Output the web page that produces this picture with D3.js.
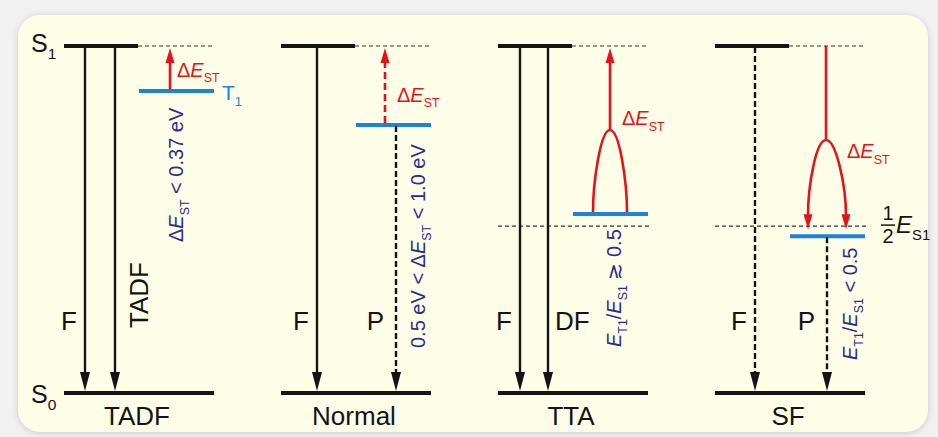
<!DOCTYPE html>
<html>
<head>
<meta charset="utf-8">
<script src="https://cdn.jsdelivr.net/npm/d3@7"></script>
<style>
  body { margin: 0; background: #f1f1f1; }
  svg { display: block; font-family: "Liberation Sans", Arial, sans-serif; }
</style>
</head>
<body>
<div id="chart"></div>
<script>
// energies are given as fractions of E(S1), S0 = 0
var panels = ['TADF', 'Normal', 'TTA', 'SF']
var t1Levels = [0.87, 0.772, 0.516, 0.452]
var halfLevel = 0.481
var halfPanels = ['TTA', 'SF']

// downward (radiative) transitions, x is the position inside a panel
var emissions = [
  {panel: 'TADF',   from: 'S1', x: 21,  dashed: false, label: 'F'},
  {panel: 'TADF',   from: 'S1', x: 51,  dashed: false, label: 'TADF'},
  {panel: 'Normal', from: 'S1', x: 36,  dashed: false, label: 'F'},
  {panel: 'Normal', from: 'T1', x: 115, dashed: true,  label: 'P'},
  {panel: 'TTA',    from: 'S1', x: 22,  dashed: false, label: 'F'},
  {panel: 'TTA',    from: 'S1', x: 50,  dashed: false, label: 'DF'},
  {panel: 'SF',     from: 'S1', x: 40,  dashed: true,  label: 'F'},
  {panel: 'SF',     from: 'T1', x: 112, dashed: true,  label: 'P'}
]

// red S1 <-> T1 processes
var processes = [
  {panel: 'TADF',   kind: 'up',      x: 106, dashed: false},
  {panel: 'Normal', kind: 'up',      x: 104, dashed: true},
  {panel: 'TTA',    kind: 'fusion',  x: 112, feet: [95, 129], apex: 0.758},
  {panel: 'SF',     kind: 'fission', x: 111, feet: [93, 131], apex: 0.729}
]

var conditions = [
  [['Δ'], ['E', 'i'], ['ST', 'sub'], [' < 0.37 eV']],
  [['0.5 eV < Δ'], ['E', 'i'], ['ST', 'sub'], [' < 1.0 eV']],
  [['E', 'i'], ['T1', 'sub'], ['/'], ['E', 'i'], ['S1', 'sub'], [' \u2273 0.5']],
  [['E', 'i'], ['T1', 'sub'], ['/'], ['E', 'i'], ['S1', 'sub'], [' < 0.5']]
]

var width = 938, height = 437
var black = '#141414', red = '#e1141e', blue = '#1d82d9', navy = '#2c2c8a'

var svg = d3.select('#chart').append('svg')
  .attr('width', width)
  .attr('height', height)

var defs = svg.append('defs')
var f = defs.append('filter').attr('id', 'shadow')
  .attr('x', '-5%').attr('y', '-5%').attr('width', '110%').attr('height', '110%')
f.append('feDropShadow').attr('dx', 0).attr('dy', 1).attr('stdDeviation', 3)
  .attr('flood-color', '#999').attr('flood-opacity', 0.45)

svg.append('rect')
  .attr('x', 18).attr('y', 15)
  .attr('width', 910).attr('height', 417)
  .attr('rx', 22)
  .attr('fill', '#fefee8')
  .attr('filter', 'url(#shadow)')

var y = d3.scaleLinear().domain([0, 1]).range([393, 46])
var px = d3.scalePoint().domain(panels).range([64, 715])
var ix = d3.scaleLinear().domain([0, 150]).range([0, 150])
function X(panel, v) { return px(panel) + ix(v) }

function level(panel, name) {
  if (name == 'S1') return 1
  if (name == 'S0') return 0
  return t1Levels[panels.indexOf(panel)]
}

function rich(g, parts, size) {
  var t = g.append('text').attr('font-size', size)
  var shift = 0
  parts.forEach(function (p) {
    var s = t.append('tspan').text(p[0])
    if (p[1] == 'i') s.attr('font-style', 'italic')
    if (p[1] == 'sub') {
      s.attr('font-size', size * 0.62).attr('dy', size * 0.28)
      shift = size * 0.28
    } else if (shift) {
      s.attr('dy', -shift)
      shift = 0
    }
  })
  return t
}

function head(x, tip, dir, w, len, color) {
  // dir = 1 points down, -1 points up
  svg.append('path')
    .attr('d', 'M' + x + ',' + tip + 'L' + (x - w / 2) + ',' + (tip - dir * len) +
      'L' + (x + w / 2) + ',' + (tip - dir * len) + 'Z')
    .attr('fill', color)
}

// levels
panels.forEach(function (p, i) {
  var g = svg.append('g')
  g.append('line')
    .attr('x1', X(p, 0)).attr('x2', X(p, 74))
    .attr('y1', y(1)).attr('y2', y(1))
    .attr('stroke', black).attr('stroke-width', 4)
  g.append('line')
    .attr('x1', X(p, 74)).attr('x2', X(p, 151))
    .attr('y1', y(1)).attr('y2', y(1))
    .attr('stroke', '#333').attr('stroke-width', 1.2).attr('stroke-dasharray', '4,3')
  g.append('line')
    .attr('x1', X(p, 0)).attr('x2', X(p, 150))
    .attr('y1', y(0)).attr('y2', y(0))
    .attr('stroke', black).attr('stroke-width', 4)
  if (halfPanels.indexOf(p) >= 0) {
    g.append('line')
      .attr('x1', X(p, 0)).attr('x2', X(p, 151))
      .attr('y1', y(halfLevel)).attr('y2', y(halfLevel))
      .attr('stroke', '#333').attr('stroke-width', 1.2).attr('stroke-dasharray', '4,3')
  }
  g.append('line')
    .attr('x1', X(p, 75)).attr('x2', X(p, 150))
    .attr('y1', y(t1Levels[i])).attr('y2', y(t1Levels[i]))
    .attr('stroke', blue).attr('stroke-width', 4)

  g.append('text')
    .attr('x', X(p, 73)).attr('y', 425)
    .attr('text-anchor', 'middle')
    .attr('font-size', 26)
    .attr('fill', black)
    .text(p)
})

// emission arrows
emissions.forEach(function (d) {
  var x = X(d.panel, d.x)
  var top = y(level(d.panel, d.from)) + 1
  var tip = y(0) - 2
  svg.append('line')
    .attr('x1', x).attr('x2', x)
    .attr('y1', top).attr('y2', tip - 14)
    .attr('stroke', black).attr('stroke-width', 2.4)
    .attr('stroke-dasharray', d.dashed ? '6,3' : null)
  head(x, tip, 1, 10, 19, black)

  var t = svg.append('text')
    .attr('font-size', 26)
    .attr('fill', black)
    .text(d.label)
  if (d.label == 'TADF') {
    t.attr('transform', 'translate(' + (x + 33) + ',328) rotate(-90)')
  } else if (d.label == 'DF') {
    t.attr('x', x + 7).attr('y', 330)
  } else {
    t.attr('x', x - (d.label == 'P' ? 12 : 8)).attr('y', 330).attr('text-anchor', 'end')
  }
})

// red processes
var estPos = {TADF: [113, 0.911], Normal: [116, 0.839], TTA: [124, 0.772], SF: [132, 0.677]}
processes.forEach(function (d) {
  var x = X(d.panel, d.x)
  var t1 = y(level(d.panel, 'T1'))
  var s1 = y(1)
  if (d.kind == 'up') {
    svg.append('line')
      .attr('x1', x).attr('x2', x)
      .attr('y1', t1 - 2).attr('y2', s1 + 14)
      .attr('stroke', red).attr('stroke-width', 2.6)
      .attr('stroke-dasharray', d.dashed ? '7,4' : null)
    head(x, s1 + 2, -1, 9, 15, red)
  } else if (d.kind == 'fusion') {
    var a = y(d.apex), l = X(d.panel, d.feet[0]), r = X(d.panel, d.feet[1])
    svg.append('path')
      .attr('d', 'M' + l + ',' + (t1 - 2) + 'C' + l + ',' + (a + 55) + ' ' + (x - 10) + ',' + a + ' ' + x + ',' + a +
        'C' + (x + 10) + ',' + a + ' ' + r + ',' + (a + 55) + ' ' + r + ',' + (t1 - 2) +
        'M' + x + ',' + a + 'L' + x + ',' + (s1 + 14))
      .attr('fill', 'none').attr('stroke', red).attr('stroke-width', 2.6)
    head(x, s1 + 2, -1, 9, 15, red)
  } else {
    var a2 = y(d.apex), l2 = X(d.panel, d.feet[0]), r2 = X(d.panel, d.feet[1])
    var tip = t1 - 7
    svg.append('path')
      .attr('d', 'M' + x + ',' + s1 + 'L' + x + ',' + a2 +
        'M' + l2 + ',' + (tip - 13) + 'C' + l2 + ',' + (a2 + 45) + ' ' + (x - 10) + ',' + a2 + ' ' + x + ',' + a2 +
        'C' + (x + 10) + ',' + a2 + ' ' + r2 + ',' + (a2 + 45) + ' ' + r2 + ',' + (tip - 13))
      .attr('fill', 'none').attr('stroke', red).attr('stroke-width', 2.6)
    head(l2, tip, 1, 9, 15, red)
    head(r2, tip, 1, 9, 15, red)
  }
  var pos = estPos[d.panel]
  rich(svg, [['Δ'], ['E', 'i'], ['ST', 'sub']], 20)
    .attr('x', X(d.panel, pos[0])).attr('y', y(pos[1]))
    .attr('fill', red)
})

// conditions (rotated, navy)
var condPos = [[119, 242], [144, 348], [123, 347], [142, 360]]
conditions.forEach(function (parts, i) {
  var p = panels[i]
  rich(svg, parts, 20)
    .attr('fill', navy)
    .attr('transform', 'translate(' + X(p, condPos[i][0]) + ',' + condPos[i][1] + ') rotate(-90)')
})

// T1 label
rich(svg, [['T'], ['1', 'sub']], 21)
  .attr('x', X('TADF', 158)).attr('y', y(t1Levels[0]) + 9)
  .attr('fill', blue)

// state labels
rich(svg, [['S'], ['1', 'sub']], 25).attr('x', 31).attr('y', y(1) + 6).attr('fill', black)
rich(svg, [['S'], ['0', 'sub']], 25).attr('x', 31).attr('y', y(0) + 10).attr('fill', black)

// 1/2 E_S1
var hx = 888, hy = y(halfLevel)
svg.append('text').attr('x', hx).attr('y', hy - 6).attr('text-anchor', 'middle')
  .attr('font-size', 20).attr('fill', black).text('1')
svg.append('line').attr('x1', hx - 7).attr('x2', hx + 7).attr('y1', hy - 1).attr('y2', hy - 1)
  .attr('stroke', black).attr('stroke-width', 1.5)
svg.append('text').attr('x', hx).attr('y', hy + 17).attr('text-anchor', 'middle')
  .attr('font-size', 20).attr('fill', black).text('2')
rich(svg, [['E', 'i'], ['S1', 'sub']], 24).attr('x', hx + 8).attr('y', hy + 7).attr('fill', black)
</script>
</body>
</html>
